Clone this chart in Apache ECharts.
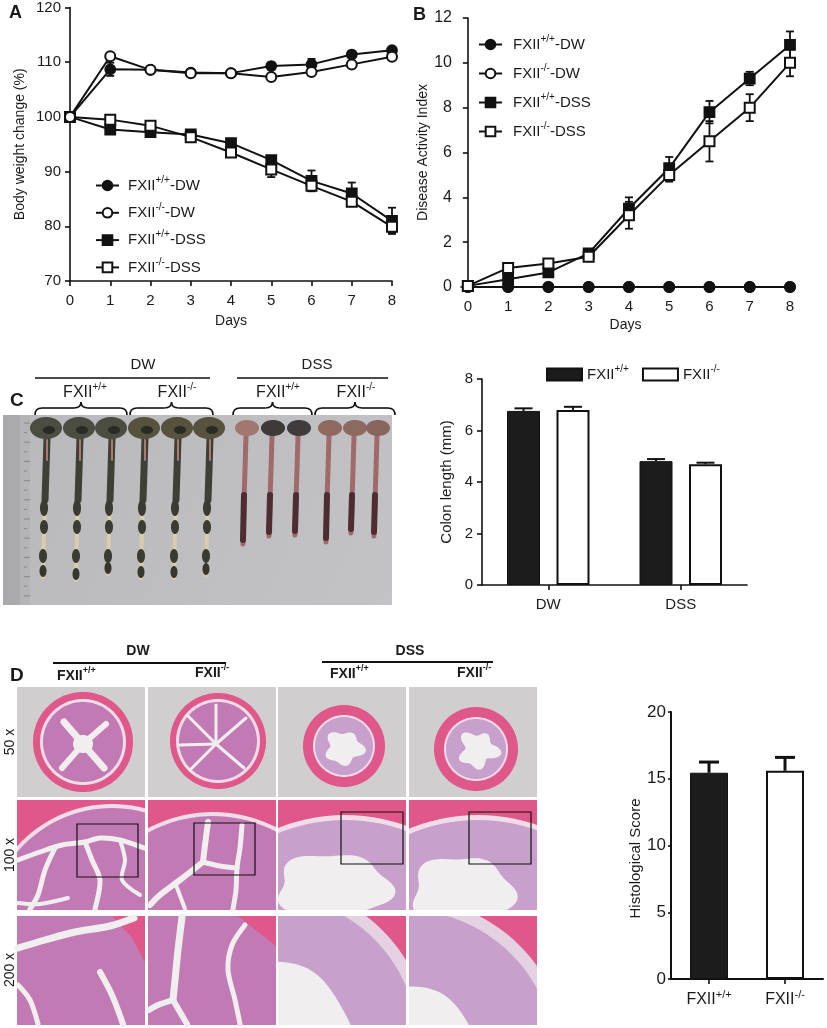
<!DOCTYPE html>
<html><head><meta charset="utf-8">
<script src="https://cdn.jsdelivr.net/npm/echarts@6/dist/echarts.min.js"></script>
<style>html,body{margin:0;padding:0;background:#fff}#c{width:827px;height:1028px}</style>
</head><body><div id="c"></div>
<script>
const FONT = 'Liberation Sans, Arial, Helvetica, sans-serif';

// ---------- DATA ----------
const days = [0, 1, 2, 3, 4, 5, 6, 7, 8];
const lineNames = ['FXII+/+-DW', 'FXII-/--DW', 'FXII+/+-DSS', 'FXII-/--DSS'];

// Panel A: body weight change (%)
const weightWtDW    = [100, 108.7, 108.6, 108.1, 108.0, 109.3, 109.6, 111.4, 112.2];
const weightWtDWErr = [0, 1.2, 0.3, 0.3, 0.3, 0.4, 1.0, 0.4, 0.4];
const weightKoDW    = [100, 111.1, 108.6, 108.0, 108.0, 107.3, 108.2, 109.6, 111.0];
const weightKoDWErr = [0, 0.5, 0.3, 0.3, 0.3, 0.5, 0.4, 0.4, 0.4];
const weightWtDSS    = [100, 97.7, 97.2, 96.8, 95.2, 92.1, 88.3, 86.0, 81.0];
const weightWtDSSErr = [0, 0.4, 0.4, 0.4, 0.5, 0.6, 1.9, 2.0, 2.4];
const weightKoDSS    = [100, 99.5, 98.4, 96.3, 93.5, 90.4, 87.4, 84.5, 79.9];
const weightKoDSSErr = [0, 0.4, 0.4, 0.5, 0.6, 1.4, 0.7, 0.8, 1.0];

// Panel B: disease activity index
const daiWtDW = [0, 0, 0, 0, 0, 0, 0, 0, 0];
const daiKoDW = [0, 0, 0, 0, 0, 0, 0, 0, 0];
const daiWtDSS    = [0.05, 0.35, 0.65, 1.5, 3.5, 5.3, 7.8, 9.3, 10.8];
const daiWtDSSErr = [0, 0.1, 0.1, 0.15, 0.5, 0.5, 0.5, 0.3, 0.6];
const daiKoDSS    = [0.05, 0.85, 1.05, 1.35, 3.2, 5.0, 6.5, 8.0, 10.0];
const daiKoDSSErr = [0, 0.1, 0.1, 0.15, 0.6, 0.3, 0.9, 0.6, 0.6];

// Panel C: colon length (mm)
const colonGroups = ['DW', 'DSS'];
const barNames = ['FXII+/+', 'FXII-/-'];
const colonWt    = [6.76, 4.81];
const colonWtErr = [0.1, 0.08];
const colonKo    = [6.8, 4.69];
const colonKoErr = [0.12, 0.06];

// Panel D: histological score
const scoreGroups = ['FXII+/+', 'FXII-/-'];
const scoreVals = [15.45, 15.6];
const scoreErr  = [0.8, 1.0];

// ---------- HELPERS ----------
function fxiiRich(name) {
  const m = name.match(/^FXII(\+\/\+|-\/-)(.*)$/);
  if (!m) return name;
  return '{a|FXII}{s|' + m[1] + '}' + (m[2] ? '{a|' + m[2] + '}' : '');
}
function richSet(size, sup, bold) {
  return {
    a: { fontSize: size, fontFamily: FONT, color: '#1a1a1a', fontWeight: bold ? 'bold' : 'normal' },
    s: { fontSize: sup, fontFamily: FONT, color: '#1a1a1a', fontWeight: bold ? 'bold' : 'normal', padding: [0, 0, Math.round(size * 0.7), 0] }
  };
}

function errRenderer(capHalf, width, offsetFrac) {
  return function (params, api) {
    const x = api.value(0), lo = api.value(1), hi = api.value(2);
    if (hi - lo < 1e-9) return null;
    const p1 = api.coord([x, hi]), p2 = api.coord([x, lo]);
    let dx = 0;
    if (offsetFrac) dx = api.size([1, 0])[0] * offsetFrac;
    const X = p1[0] + dx;
    const st = { stroke: '#111', lineWidth: width };
    const ch = [
      { type: 'line', shape: { x1: X, y1: p1[1], x2: X, y2: p2[1] }, style: st },
      { type: 'line', shape: { x1: X - capHalf, y1: p1[1], x2: X + capHalf, y2: p1[1] }, style: st }
    ];
    if (!offsetFrac && offsetFrac !== 0) {
      ch.push({ type: 'line', shape: { x1: X - capHalf, y1: p2[1], x2: X + capHalf, y2: p2[1] }, style: st });
    }
    return { type: 'group', children: ch };
  };
}
function symErr(vals, errs) { return vals.map((v, i) => [days[i], v - errs[i], v + errs[i]]); }
function upErr(vals, errs) { return vals.map((v, i) => [i, v, v + errs[i]]); }

// ---------- GRAPHIC (photos approximated) ----------
const elems = [];
function clipPoly(pts, r) {
  const [x0, y0, x1, y1] = r;
  const tests = [
    [p => p[0] >= x0, (a, b) => { const t = (x0 - a[0]) / (b[0] - a[0]); return [x0, a[1] + t * (b[1] - a[1])]; }],
    [p => p[0] <= x1, (a, b) => { const t = (x1 - a[0]) / (b[0] - a[0]); return [x1, a[1] + t * (b[1] - a[1])]; }],
    [p => p[1] >= y0, (a, b) => { const t = (y0 - a[1]) / (b[1] - a[1]); return [a[0] + t * (b[0] - a[0]), y0]; }],
    [p => p[1] <= y1, (a, b) => { const t = (y1 - a[1]) / (b[1] - a[1]); return [a[0] + t * (b[0] - a[0]), y1]; }]
  ];
  let out = pts.slice();
  for (const [inside, inter] of tests) {
    const inp = out; out = [];
    if (!inp.length) break;
    for (let i = 0; i < inp.length; i++) {
      const cur = inp[i], prev = inp[(i + inp.length - 1) % inp.length];
      const ci = inside(cur), pi = inside(prev);
      if (ci) { if (!pi) out.push(inter(prev, cur)); out.push(cur); }
      else if (pi) out.push(inter(prev, cur));
    }
  }
  return out;
}
function poly(pts, fill, rect) {
  const c = rect ? clipPoly(pts, rect) : pts;
  if (c.length > 2) elems.push({ type: 'polygon', silent: true, shape: { points: c }, style: { fill: fill } });
}
function disc(cx, cy, rx, ry, fill, rect, wob) {
  const pts = [], n = 120, w = wob || 0;
  for (let i = 0; i < n; i++) {
    const a = i / n * Math.PI * 2;
    const k = 1 + w * Math.sin(5 * a + 0.7) + w * 0.6 * Math.cos(3 * a);
    pts.push([cx + rx * k * Math.cos(a), cy + ry * k * Math.sin(a)]);
  }
  poly(pts, fill, rect);
}
function rect(x, y, w, h, fill, stroke, lw) {
  elems.push({ type: 'rect', silent: true, shape: { x: x, y: y, width: w, height: h },
    style: { fill: fill || 'none', stroke: stroke || null, lineWidth: lw || 0 } });
}
function pline(pts, color, w) {
  elems.push({ type: 'polyline', silent: true, shape: { points: pts, smooth: 0.3 },
    style: { stroke: color, lineWidth: w, fill: null, lineCap: 'round', lineJoin: 'round' } });
}
function line(x1, y1, x2, y2, w) {
  elems.push({ type: 'line', silent: true, shape: { x1, y1, x2, y2 }, style: { stroke: '#111', lineWidth: w || 1.5 } });
}
function txt(x, y, text, o) {
  o = o || {};
  elems.push({ type: 'text', silent: true, x: x, y: y, rotation: o.rot || 0,
    style: { text: text, x: 0, y: 0, fill: '#1a1a1a', fontSize: o.size || 14, fontFamily: FONT,
      fontWeight: o.bold ? 'bold' : 'normal', textAlign: o.align || 'center',
      textVerticalAlign: 'middle', verticalAlign: 'middle', rich: o.rich } });
}
function brace(x0, x1, y) {
  const m = (x0 + x1) / 2, st = { stroke: '#111', lineWidth: 1.6, fill: null };
  const q = (a, b, c, d, e, f) => elems.push({ type: 'bezierCurve', silent: true,
    shape: { x1: a, y1: b, cpx1: c, cpy1: d, x2: e, y2: f }, style: st });
  q(x0, y + 7, x0, y, x0 + 7, y);
  line(x0 + 7, y, m - 7, y, 1.6);
  q(m - 7, y, m, y, m, y - 6);
  q(m, y - 6, m, y, m + 7, y);
  line(m + 7, y, x1 - 7, y, 1.6);
  q(x1 - 7, y, x1, y, x1, y + 7);
}

// Panel labels
txt(9, 13, 'A', { bold: true, size: 18, align: 'left' });
txt(413, 15, 'B', { bold: true, size: 18, align: 'left' });

// ---- Panel C photo ----
txt(10, 401, 'C', { bold: true, size: 19, align: 'left' });
txt(143, 365, 'DW', { size: 15 });
line(35, 378, 210, 378, 1.6);
txt(317, 365, 'DSS', { size: 15 });
line(237, 378, 388, 378, 1.6);
const cRich = richSet(16, 10, false);
txt(85, 393, fxiiRich('FXII+/+'), { rich: cRich });
txt(177, 393, fxiiRich('FXII-/-'), { rich: cRich });
txt(278, 393, fxiiRich('FXII+/+'), { rich: cRich });
txt(356, 393, fxiiRich('FXII-/-'), { rich: cRich });
brace(35, 127, 408); brace(130, 213, 408); brace(233, 312, 408); brace(315, 395, 408);

elems.push({ type: 'rect', silent: true, shape: { x: 3, y: 415, width: 389, height: 190 },
  style: { fill: { type: 'linear', x: 0, y: 0, x2: 1, y2: 1, colorStops: [{ offset: 0, color: '#b9b9bb' }, { offset: 1, color: '#c3c3c5' }] } } });
rect(3, 415, 27, 190, '#aaaaac');
rect(20, 415, 10, 190, '#b4b4b6');
for (let y = 423; y < 600; y += 9.6) {
  elems.push({ type: 'line', silent: true, shape: { x1: 24, y1: y, x2: (Math.round((y - 423) / 9.6) % 2 ? 27 : 30), y2: y }, style: { stroke: '#7c7c7e', lineWidth: 0.8 } });
}
// DW colons
[[45, 577], [78, 580], [110, 574], [143, 578], [176, 578], [208, 575]].forEach(function (s, i) {
  const x = s[0], b = s[1];
  const cae = i < 3 ? '#4c4d42' : '#55523e';
  pline([[x + 2, 438], [x + 1, 480], [x - 1, 530], [x - 2, b]], '#d9cdae', 4);
  pline([[x + 2, 438], [x + 1, 470], [x, 500]], '#3e4036', 7);
  pline([[x + 2, 440], [x + 2, 460]], '#a87a70', 2);
  disc(x - 1, 508, 4, 8, '#3a3b31');
  disc(x - 1, 527, 4, 7, '#3a3b31');
  disc(x - 2, 556, 4, 7, '#3a3b31');
  disc(x - 2, b - 6, 3.5, 6, '#35362c');
  disc(x + 1, 428, 16, 11, cae);
  disc(x + 4, 430, 6, 4, '#2b2b25');
});
// DSS colons
[[245, 544, '#a07870'], [271, 536, '#3e3a3a'], [297, 535, '#403b3c'], [328, 542, '#8f6860'], [353, 533, '#8c6a62'], [376, 536, '#8a655e']].forEach(function (s) {
  const x = s[0], b = s[1];
  pline([[x + 1, 436], [x, 470], [x - 1, 500], [x - 2, b]], '#a06a6a', 5);
  pline([[x - 1, 495], [x - 2, b - 4]], '#4f2c32', 6);
  disc(x + 2, 428, 12, 8, s[2]);
});

// ---- Panel D histology ----
txt(10, 676, 'D', { bold: true, size: 19, align: 'left' });
txt(138, 651, 'DW', { bold: true, size: 14 });
line(53, 663, 226, 663, 2);
txt(410, 651, 'DSS', { bold: true, size: 14 });
line(322, 662, 493, 662, 2);
const dRich = richSet(14, 9, true);
txt(57, 676, fxiiRich('FXII+/+'), { rich: dRich, align: 'left' });
txt(195, 673, fxiiRich('FXII-/-'), { rich: dRich, align: 'left' });
txt(330, 674, fxiiRich('FXII+/+'), { rich: dRich, align: 'left' });
txt(457, 673, fxiiRich('FXII-/-'), { rich: dRich, align: 'left' });
txt(10, 742, '50 x', { rot: Math.PI / 2, size: 14 });
txt(10, 855, '100 x', { rot: Math.PI / 2, size: 14 });
txt(10, 970, '200 x', { rot: Math.PI / 2, size: 14 });

const cols = [[17, 145], [148, 276], [278, 406], [409, 537]];
const rows = [[687, 797], [800, 910], [916, 1025]];
const PINK = '#e0588a', SUB = '#f0dde8', MUC = '#c27ab4', LIL = '#c8a0cc', LUM = '#f1eeef', BG = '#d0cecf';
function R(c, r) { return [cols[c][0], rows[r][0], cols[c][1], rows[r][1]]; }
function bgRect(c, r, fill) { const q = R(c, r); rect(q[0], q[1], q[2] - q[0], q[3] - q[1], fill); }
// Row 1 - 50x
[0, 1, 2, 3].forEach(c => bgRect(c, 0, BG));
disc(83, 742, 50, 50, PINK, R(0, 0)); disc(83, 742, 43, 43, SUB, R(0, 0)); disc(83, 742, 40, 40, MUC, R(0, 0));
pline([[83, 744], [64, 722]], LUM, 7); pline([[83, 744], [106, 724]], LUM, 6);
pline([[83, 744], [62, 768]], LUM, 6); pline([[83, 744], [104, 768]], LUM, 7);
disc(83, 744, 10, 9, LUM);
disc(218, 741, 48, 48, PINK, R(1, 0)); disc(218, 741, 42, 42, SUB, R(1, 0)); disc(218, 741, 39, 39, MUC, R(1, 0));
[[188, 716], [246, 718], [190, 770], [244, 768], [216, 705], [180, 745]].forEach(p => pline([[216, 744], p], LUM, 3));
disc(344, 746, 41, 41, PINK, R(2, 0)); disc(344, 746, 31, 31, SUB, R(2, 0)); disc(344, 746, 29, 29, LIL, R(2, 0));
disc(344, 748, 18, 16, LUM, R(2, 0), 0.15);
disc(476, 749, 42, 42, PINK, R(3, 0)); disc(476, 749, 32, 32, SUB, R(3, 0)); disc(476, 749, 30, 30, LIL, R(3, 0));
disc(478, 750, 18, 17, LUM, R(3, 0), 0.2);
// Row 2 - 100x
[0, 1, 2, 3].forEach(c => bgRect(c, 1, PINK));
disc(112, 932, 128, 128, SUB, R(0, 1)); disc(112, 932, 124, 124, MUC, R(0, 1));
pline([[18, 860], [40, 852], [62, 845], [85, 842], [100, 838], [120, 840], [144, 848]], LUM, 5);
pline([[55, 848], [45, 870], [38, 895], [30, 909]], LUM, 5);
pline([[85, 842], [92, 860], [100, 880], [95, 909]], LUM, 5);
pline([[120, 840], [125, 860], [122, 880], [140, 895]], LUM, 4);
pline([[18, 903], [40, 904], [68, 898]], LUM, 4);
disc(213, 950, 138, 138, SUB, R(1, 1)); disc(213, 950, 134, 134, MUC, R(1, 1));
pline([[208, 822], [205, 845], [203, 862]], LUM, 6);
pline([[203, 862], [180, 880], [160, 895], [150, 905]], LUM, 6);
pline([[203, 862], [220, 866], [237, 868]], LUM, 5);
pline([[242, 825], [240, 848], [237, 868], [236, 890], [233, 909]], LUM, 5);
pline([[176, 885], [185, 909]], LUM, 4);
disc(345, 995, 180, 180, SUB, R(2, 1)); disc(345, 995, 175, 175, LIL, R(2, 1));
disc(333, 888, 56, 34, LUM, R(2, 1), 0.08);
disc(478, 995, 180, 180, SUB, R(3, 1)); disc(478, 995, 175, 175, LIL, R(3, 1));
disc(462, 893, 50, 36, LUM, R(3, 1), 0.08);
rect(77, 824, 61, 53, null, '#111', 1.2);
rect(194, 823, 61, 52, null, '#111', 1.2);
rect(341, 812, 62, 52, null, '#111', 1.2);
rect(469, 812, 62, 52, null, '#111', 1.2);
// Row 3 - 200x
bgRect(0, 2, MUC); bgRect(1, 2, MUC);
poly([[112, 916], [145, 916], [145, 962], [132, 938]], PINK);
pline([[18, 948], [45, 940], [75, 932], [110, 926], [134, 918]], LUM, 7);
pline([[100, 972], [112, 995], [123, 1024]], LUM, 6);
pline([[18, 985], [30, 1000], [38, 1024]], LUM, 5);
poly([[238, 916], [276, 916], [276, 946]], PINK);
pline([[182, 917], [178, 950], [175, 980], [173, 1000]], LUM, 7);
pline([[173, 1000], [158, 1005], [149, 1010]], LUM, 6);
pline([[173, 1000], [180, 1012], [187, 1024]], LUM, 6);
pline([[245, 925], [232, 945], [228, 970], [235, 1000], [240, 1024]], LUM, 5);
bgRect(2, 2, PINK); bgRect(3, 2, PINK);
disc(268, 1045, 162, 162, '#e4d2e2', R(2, 2)); disc(268, 1045, 150, 150, LIL, R(2, 2)); disc(268, 1045, 85, 85, LUM, R(2, 2), 0.03);
disc(405, 1060, 162, 162, '#e4d2e2', R(3, 2)); disc(405, 1060, 150, 150, LIL, R(3, 2)); disc(405, 1060, 75, 75, LUM, R(3, 2), 0.03);

// ---------- CHART ----------
const axLine = { show: true, lineStyle: { color: '#111', width: 1.6 } };
const axTick = { show: true, length: 5, lineStyle: { color: '#111', width: 1.6 } };
const lab = (size, margin) => ({ color: '#1a1a1a', fontFamily: FONT, fontSize: size, margin: margin });
const nameStyle = (size, pad) => ({ color: '#1a1a1a', fontFamily: FONT, fontSize: size, padding: pad || 0 });

function lineSeries(name, ax, vals, symbol) {
  return { type: 'line', name: name, xAxisIndex: ax, yAxisIndex: ax, clip: false,
    data: vals.map((v, i) => [days[i], v]), symbol: symbol, symbolSize: 10, z: 3,
    lineStyle: { color: '#111', width: 2 },
    itemStyle: { color: '#111', borderColor: '#111', borderWidth: 1.8 } };
}
function errSeries(ax, data, cap, w, off) {
  return { type: 'custom', xAxisIndex: ax, yAxisIndex: ax, renderItem: errRenderer(cap, w, off),
    encode: { x: 0, y: [1, 2] }, data: data, z: 2, silent: true };
}

const legendRich = richSet(15, 10, false);
const option = {
  animation: false,
  backgroundColor: '#ffffff',
  textStyle: { fontFamily: FONT },
  grid: [
    { left: 70, top: 6, width: 322, height: 275 },
    { left: 461, top: 18, width: 329, height: 269 },
    { left: 482, top: 379, width: 265, height: 206 },
    { left: 671, top: 712, width: 152, height: 267 }
  ],
  xAxis: [
    { type: 'value', gridIndex: 0, min: 0, max: 8, interval: 1, axisLine: axLine, axisTick: axTick,
      splitLine: { show: false }, axisLabel: lab(15, 12), name: 'Days', nameLocation: 'middle', nameGap: 33, nameTextStyle: nameStyle(14) },
    { type: 'value', gridIndex: 1, min: -0.17, max: 8, axisLine: axLine,
      axisTick: Object.assign({ customValues: days }, axTick), splitLine: { show: false },
      axisLabel: Object.assign({ customValues: days }, lab(15, 12)), name: 'Days', nameLocation: 'middle', nameGap: 31, nameTextStyle: nameStyle(14) },
    { type: 'category', gridIndex: 2, data: colonGroups, axisLine: axLine,
      axisTick: Object.assign({ alignWithLabel: true }, axTick), axisLabel: lab(15, 12) },
    { type: 'category', gridIndex: 3, data: scoreGroups, axisLine: { show: true, lineStyle: { color: '#111', width: 2 } },
      axisTick: { show: true, alignWithLabel: true, length: 5, lineStyle: { color: '#111', width: 1.6 } },
      axisLabel: Object.assign({ interval: 0, formatter: v => fxiiRich(v), rich: richSet(16, 11, false) }, lab(16, 10)) }
  ],
  yAxis: [
    { type: 'value', gridIndex: 0, min: 70, max: 120, interval: 10, axisLine: axLine, axisTick: axTick,
      splitLine: { show: false }, axisLabel: lab(15, 9), name: 'Body weight change (%)', nameLocation: 'middle',
      nameGap: 43, nameRotate: 90, nameTextStyle: nameStyle(14) },
    { type: 'value', gridIndex: 1, min: 0, max: 12, interval: 2, axisLine: axLine, axisTick: axTick,
      splitLine: { show: false }, axisLabel: lab(16, 9), name: 'Disease Activity Index', nameLocation: 'middle',
      nameGap: 28, nameRotate: 90, nameTextStyle: nameStyle(14) },
    { type: 'value', gridIndex: 2, min: 0, max: 8, interval: 2, axisLine: axLine, axisTick: axTick,
      splitLine: { show: false }, axisLabel: lab(15, 9), name: 'Colon length (mm)', nameLocation: 'middle',
      nameGap: 28, nameRotate: 90, nameTextStyle: nameStyle(15) },
    { type: 'value', gridIndex: 3, min: 0, max: 20, interval: 5,
      axisLine: { show: true, lineStyle: { color: '#111', width: 2 } },
      axisTick: { show: true, length: 3, lineStyle: { color: '#111', width: 1.6 } },
      splitLine: { show: false }, axisLabel: lab(17, 5), name: 'Histological Score', nameLocation: 'middle',
      nameGap: 28, nameRotate: 90, nameTextStyle: nameStyle(15, [0, 26, 0, 0]) }
  ],
  legend: [
    { data: lineNames, orient: 'vertical', left: 90, top: 170, itemWidth: 23, itemHeight: 12, itemGap: 9.3,
      selectedMode: false, formatter: fxiiRich, textStyle: { rich: legendRich, fontSize: 15, padding: [0, 0, 0, 4] } },
    { data: lineNames, orient: 'vertical', left: 473, top: 29, itemWidth: 23, itemHeight: 12, itemGap: 11,
      selectedMode: false, formatter: fxiiRich, textStyle: { rich: legendRich, fontSize: 15, padding: [0, 0, 0, 6] } },
    { data: barNames, orient: 'horizontal', left: 541, top: 359, itemWidth: 35, itemHeight: 12, itemGap: 13,
      icon: 'rect', selectedMode: false, formatter: fxiiRich, textStyle: { rich: legendRich, fontSize: 15 } }
  ],
  series: [
    // Panel A
    lineSeries('FXII+/+-DSS', 0, weightWtDSS, 'rect'),
    lineSeries('FXII-/--DSS', 0, weightKoDSS, 'emptyRect'),
    lineSeries('FXII+/+-DW', 0, weightWtDW, 'circle'),
    lineSeries('FXII-/--DW', 0, weightKoDW, 'emptyCircle'),
    errSeries(0, symErr(weightWtDSS, weightWtDSSErr), 4, 1.8),
    errSeries(0, symErr(weightKoDSS, weightKoDSSErr), 4, 1.8),
    errSeries(0, symErr(weightWtDW, weightWtDWErr), 4, 1.8),
    errSeries(0, symErr(weightKoDW, weightKoDWErr), 4, 1.8),
    // Panel B
    lineSeries('FXII-/--DW', 1, daiKoDW, 'emptyCircle'),
    lineSeries('FXII+/+-DW', 1, daiWtDW, 'circle'),
    lineSeries('FXII+/+-DSS', 1, daiWtDSS, 'rect'),
    lineSeries('FXII-/--DSS', 1, daiKoDSS, 'emptyRect'),
    errSeries(1, symErr(daiWtDSS, daiWtDSSErr), 4, 1.8),
    errSeries(1, symErr(daiKoDSS, daiKoDSSErr), 4, 1.8),
    // Panel C
    { type: 'bar', name: 'FXII+/+', xAxisIndex: 2, yAxisIndex: 2, data: colonWt, barWidth: 33, barGap: '50%',
      itemStyle: { color: '#1c1c1c', borderColor: '#111', borderWidth: 1 } },
    { type: 'bar', name: 'FXII-/-', xAxisIndex: 2, yAxisIndex: 2, data: colonKo, barWidth: 33,
      itemStyle: { color: '#ffffff', borderColor: '#111', borderWidth: 2 } },
    errSeries(2, upErr(colonWt, colonWtErr), 9, 2, -0.1868),
    errSeries(2, upErr(colonKo, colonKoErr), 9, 2, 0.1868),
    // Panel D
    { type: 'bar', name: 'Histological Score', xAxisIndex: 3, yAxisIndex: 3, barWidth: 38,
      data: scoreVals.map((v, i) => ({ value: v, itemStyle: i === 0 ? { color: '#1c1c1c', borderColor: '#111', borderWidth: 1 } : { color: '#ffffff', borderColor: '#111', borderWidth: 2 } })) },
    errSeries(3, upErr(scoreVals, scoreErr), 10, 3, 0.0001)
  ],
  graphic: { elements: elems }
};
const chart = echarts.init(document.getElementById('c'), null, { renderer: 'canvas' });
chart.setOption(option);
</script>
</body></html>
